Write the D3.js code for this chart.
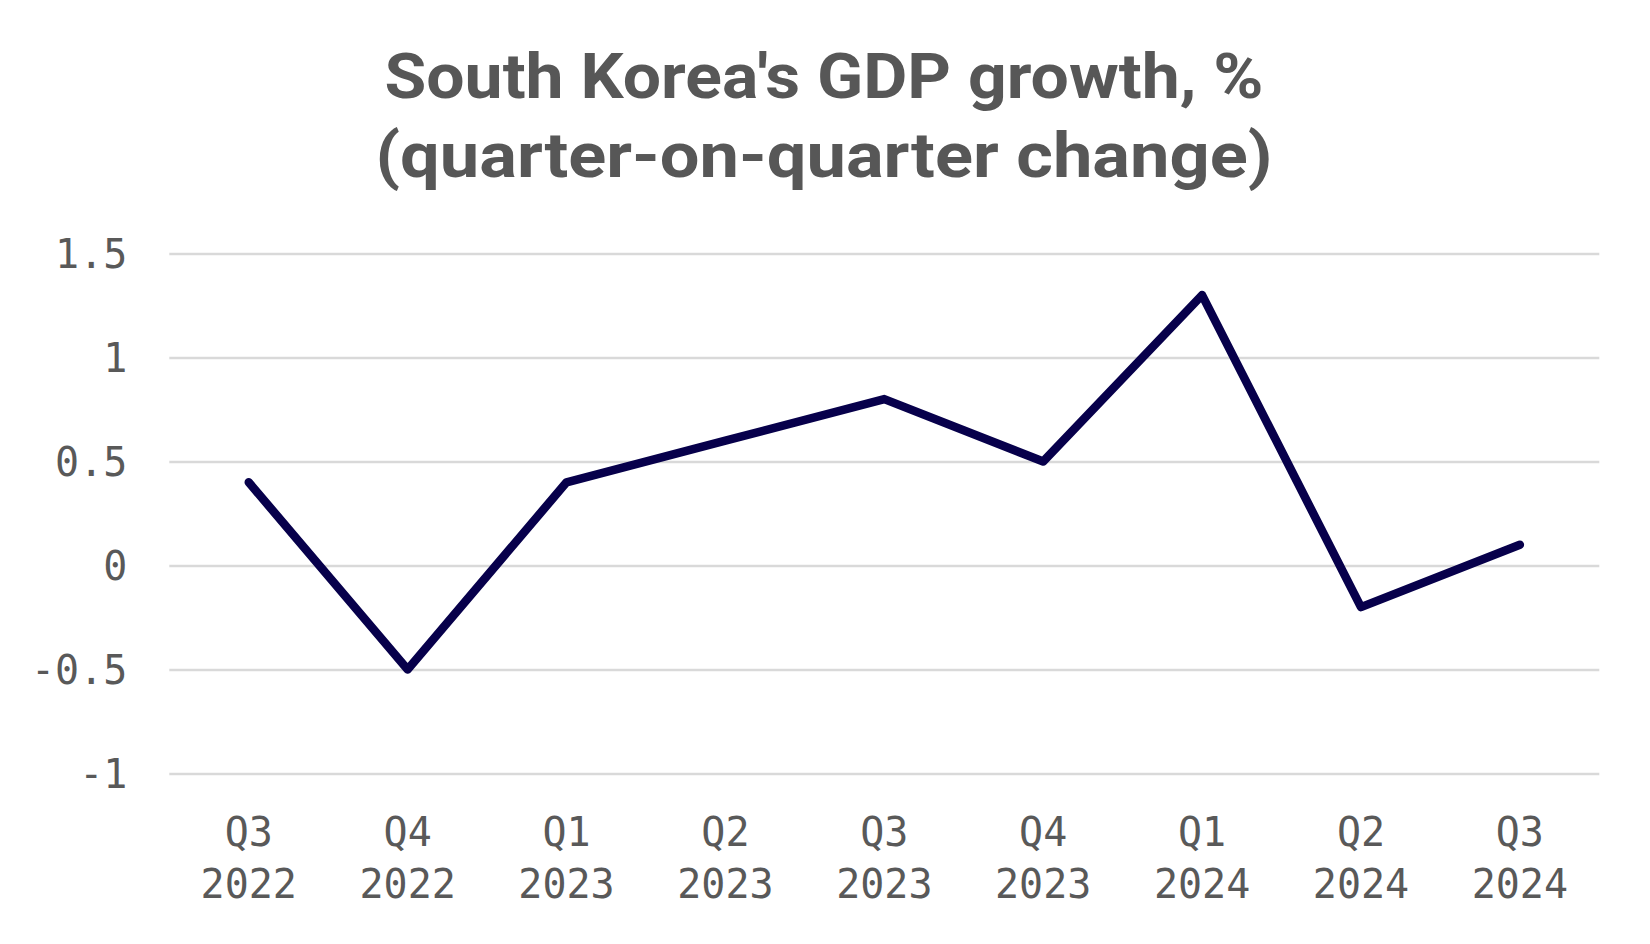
<!DOCTYPE html>
<html><head><meta charset="utf-8">
<script src="https://cdn.jsdelivr.net/npm/d3@7"></script>
<style>html,body{margin:0;padding:0;background:#fff;}svg{display:block;}</style>
</head><body>
<script>
const quarters = ["Q3","Q4","Q1","Q2","Q3","Q4","Q1","Q2","Q3"];
const years = ["2022","2022","2023","2023","2023","2023","2024","2024","2024"];
const growth = [0.4,-0.5,0.4,0.6,0.8,0.5,1.3,-0.2,0.1];
const yTicks = [-1,-0.5,0,0.5,1,1.5];
const titleLines = ["South Korea's GDP growth, %","(quarter-on-quarter change)"];

const W=1650,H=944;
const svg=d3.select("body").append("svg").attr("width",W).attr("height",H);
const left=169.3,right=1599.3;
const keys=quarters.map((q,i)=>i);
const x=d3.scaleBand().domain(keys).range([left,right]);
const y=d3.scaleLinear().domain([-1,1.5]).range([773.5,253.5]);

const textCol="#595959";
// title
const tl=[{t:titleLines[0],y:98,w:879},{t:titleLines[1],y:177,w:897}];
svg.selectAll("text.title").data(tl).join("text").attr("class","title")
 .attr("x",824).attr("y",d=>d.y).attr("text-anchor","middle")
 .attr("font-family","Roboto, 'Open Sans', sans-serif").attr("font-weight","bold")
 .attr("font-size",63).attr("fill","#575757")
 .attr("textLength",d=>d.w).attr("lengthAdjust","spacingAndGlyphs")
 .text(d=>d.t);

// grid
const gy=svg.append("g").attr("transform",`translate(${left},0)`)
 .call(d3.axisLeft(y).tickValues(yTicks).tickSize(-(right-left)).tickPadding(42)
 .tickFormat(d=>String(d)));
gy.select(".domain").remove();
gy.selectAll(".tick line").attr("stroke","#d9d9d9").attr("stroke-width",2.5);
gy.selectAll(".tick text").attr("font-family","'DejaVu Sans Mono', monospace")
 .attr("font-size",40).attr("fill",textCol).attr("dy","0.36em");

// x labels
const gx=svg.append("g").attr("transform","translate(0,773.5)")
 .call(d3.axisBottom(x).tickSize(0).tickFormat(()=>""));
gx.select(".domain").remove();
gx.selectAll(".tick text").remove();
gx.selectAll(".tick").each(function(d){
  const t=d3.select(this).append("text").attr("text-anchor","middle")
   .attr("font-family","'DejaVu Sans Mono', monospace").attr("font-size",40).attr("fill",textCol);
  t.append("tspan").attr("x",0).attr("y",72).text(quarters[d]);
  t.append("tspan").attr("x",0).attr("y",124).text(years[d]);
});

// line
const line=d3.line().x((d,i)=>x(i)+x.bandwidth()/2).y(d=>y(d));
svg.append("path").datum(growth).attr("d",line).attr("fill","none")
 .attr("stroke","#07004b").attr("stroke-width",8.5)
 .attr("stroke-linecap","round").attr("stroke-linejoin","round");
</script>
</body></html>
